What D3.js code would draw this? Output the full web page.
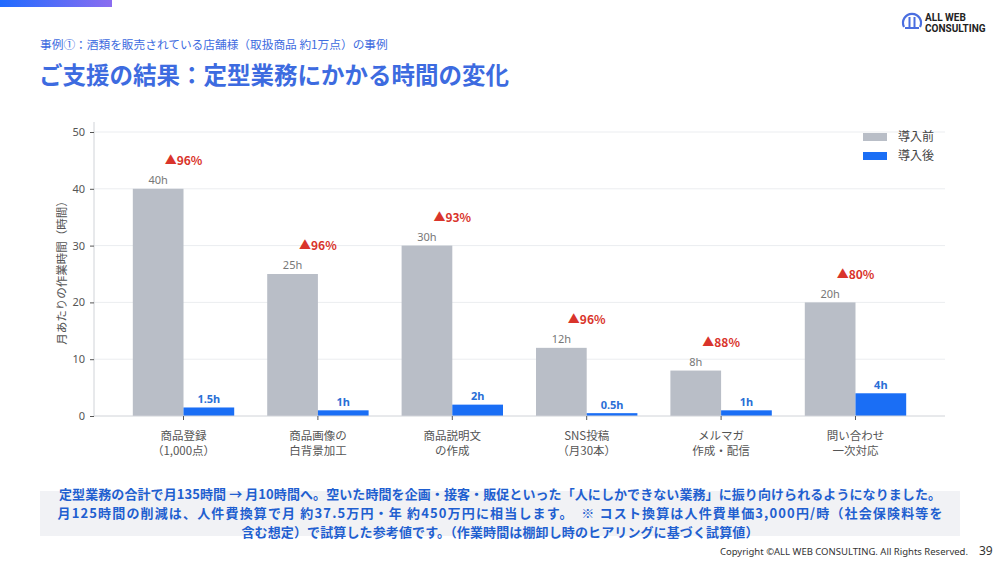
<!DOCTYPE html>
<html>
<head>
<meta charset="utf-8">
<script src="https://cdn.jsdelivr.net/npm/d3@7"></script>
<style>
  body { margin: 0; background: #fff; }
  svg { display: block; font-family: "Noto Sans CJK JP", "Noto Sans", sans-serif; }
</style>
</head>
<body>
<div id="slide"></div>
<script>
// chart data
var categories = [
  ["商品登録", "（1,000点）"],
  ["商品画像の", "白背景加工"],
  ["商品説明文", "の作成"],
  ["SNS投稿", "（月30本）"],
  ["メルマガ", "作成・配信"],
  ["問い合わせ", "一次対応"]
];
var before = [40, 25, 30, 12, 8, 20];
var after = [1.5, 1, 2, 0.5, 1, 4];
var reduction = ["▲96%", "▲96%", "▲93%", "▲96%", "▲88%", "▲80%"];
var yTicks = [0, 10, 20, 30, 40, 50];
var seriesNames = ["導入前", "導入後"];

var summaryLines = [
  "定型業務の合計で月135時間 → 月10時間へ。空いた時間を企画・接客・販促といった「人にしかできない業務」に振り向けられるようになりました。",
  "月125時間の削減は、人件費換算で月 約37.5万円・年 約450万円に相当します。　※ コスト換算は人件費単価3,000円/時（社会保険料等を",
  "含む想定）で試算した参考値です。（作業時間は棚卸し時のヒアリングに基づく試算値）"
];
var summaryWidths = [882, 885, 517];

var W = 1000, H = 563;
var grayC = "#b9bec7", blueC = "#1a6ef5";

var svg = d3.select("#slide").append("svg")
  .attr("width", W).attr("height", H);

// top gradient strip
var defs = svg.append("defs");
var grad = defs.append("linearGradient").attr("id", "topbar");
grad.append("stop").attr("offset", "0%").attr("stop-color", "#1f6bff");
grad.append("stop").attr("offset", "100%").attr("stop-color", "#8b6df0");
svg.append("rect").attr("x", 0).attr("y", 0).attr("width", 112).attr("height", 7)
  .attr("fill", "url(#topbar)");

// header text
svg.append("text").attr("x", 40).attr("y", 49)
  .attr("font-size", 11.7).attr("fill", "#3d6be0")
  .text("事例①：酒類を販売されている店舗様（取扱商品 約1万点）の事例");
svg.append("text").attr("x", 39).attr("y", 84)
  .attr("font-size", 23.5).attr("font-weight", "bold").attr("fill", "#3d6be0")
  .text("ご支援の結果：定型業務にかかる時間の変化");

// logo
var logo = svg.append("g").attr("transform", "translate(912,23)");
logo.append("path")
  .attr("d", "M-8,4 A9,9 0 1 1 8,4")
  .attr("fill", "none").attr("stroke", "#4a6ee0").attr("stroke-width", 2.2);
logo.append("path")
  .attr("d", "M-2.5,-6 V5 M2.5,-6 V5 M-7,5 H7")
  .attr("fill", "none").attr("stroke", "#4a6ee0").attr("stroke-width", 2);
logo.append("text").attr("x", 13).attr("y", -2)
  .attr("font-family", "Roboto, sans-serif").attr("font-weight", "bold")
  .attr("font-size", 10).attr("fill", "#222").text("ALL WEB");
logo.append("text").attr("x", 13).attr("y", 9)
  .attr("font-family", "Roboto, sans-serif").attr("font-weight", "bold")
  .attr("font-size", 10).attr("fill", "#222").text("CONSULTING");

// chart area
var plotLeft = 94, plotRight = 945, plotTop = 132, plotBottom = 416;
var x = d3.scalePoint().domain(d3.range(categories.length))
  .range([plotLeft, plotRight]).padding(0.666);
var y = d3.scaleLinear().domain([0, 50]).range([plotBottom, plotTop]);
var barW = 50.7;

var chart = svg.append("g");

// gridlines
chart.selectAll(".grid").data(yTicks.slice(1)).enter().append("line")
  .attr("class", "grid")
  .attr("x1", plotLeft).attr("x2", plotRight)
  .attr("y1", function(d) { return y(d); }).attr("y2", function(d) { return y(d); })
  .attr("stroke", "#ebedf0").attr("stroke-width", 1);

// bars
chart.selectAll(".before").data(before).enter().append("rect")
  .attr("class", "before")
  .attr("x", function(d, i) { return x(i) - barW; })
  .attr("y", function(d) { return y(d); })
  .attr("width", barW)
  .attr("height", function(d) { return y(0) - y(d); })
  .attr("fill", grayC);
chart.selectAll(".after").data(after).enter().append("rect")
  .attr("class", "after")
  .attr("x", function(d, i) { return x(i); })
  .attr("y", function(d) { return y(d); })
  .attr("width", barW)
  .attr("height", function(d) { return y(0) - y(d); })
  .attr("fill", blueC);

// axes
var yAxis = d3.axisLeft(y).tickValues(yTicks).tickSize(4).tickPadding(5);
var gy = chart.append("g").attr("transform", "translate(" + plotLeft + ",0)").call(yAxis);
gy.select(".domain").attr("stroke", "#d0d3d8").attr("d", "M0," + (plotTop - 10) + "V" + plotBottom);
gy.selectAll(".tick line").attr("stroke", "#555");
gy.selectAll(".tick text").attr("font-size", 11).attr("fill", "#555")
  .attr("font-family", "'Noto Sans', sans-serif");

chart.append("line").attr("x1", plotLeft).attr("x2", plotRight)
  .attr("y1", plotBottom).attr("y2", plotBottom).attr("stroke", "#d0d3d8");
chart.selectAll(".xtick").data(categories).enter().append("line")
  .attr("class", "xtick")
  .attr("x1", function(d, i) { return x(i); }).attr("x2", function(d, i) { return x(i); })
  .attr("y1", plotBottom).attr("y2", plotBottom + 4).attr("stroke", "#555");

var xl = chart.selectAll(".xlab").data(categories).enter().append("text")
  .attr("class", "xlab")
  .attr("text-anchor", "middle").attr("font-size", 11.5).attr("fill", "#555")
  .attr("x", function(d, i) { return x(i); })
  .attr("y", plotBottom + 24);
xl.append("tspan").attr("x", function(d, i) { return x(i); })
  .text(function(d) { return d[0]; });
xl.append("tspan").attr("x", function(d, i) { return x(i); }).attr("dy", 15)
  .text(function(d) { return d[1]; });

// y label
chart.append("text")
  .attr("transform", "translate(66,270) rotate(-90)")
  .attr("text-anchor", "middle").attr("font-size", 11.5).attr("fill", "#555")
  .text("月あたりの作業時間（時間）");

// value labels
chart.selectAll(".blab").data(before).enter().append("text")
  .attr("class", "blab")
  .attr("text-anchor", "middle").attr("font-size", 11).attr("fill", "#777")
  .attr("font-family", "'Noto Sans', sans-serif")
  .attr("x", function(d, i) { return x(i) - barW / 2; })
  .attr("y", function(d) { return y(d + 1.5) + 4; })
  .text(function(d) { return d + "h"; });
chart.selectAll(".alab").data(after).enter().append("text")
  .attr("class", "alab")
  .attr("text-anchor", "middle").attr("font-size", 11).attr("fill", "#2a6fd6")
  .attr("font-weight", "bold").attr("font-family", "'Noto Sans', sans-serif")
  .attr("x", function(d, i) { return x(i) + barW / 2; })
  .attr("y", function(d) { return y(d + 1.5) + 4; })
  .text(function(d) { return d + "h"; });
chart.selectAll(".rlab").data(reduction).enter().append("text")
  .attr("class", "rlab")
  .attr("text-anchor", "middle").attr("font-size", 12).attr("fill", "#d9342b")
  .attr("font-weight", "bold").attr("font-family", "'Noto Sans CJK JP', sans-serif")
  .attr("x", function(d, i) { return x(i); })
  .attr("y", function(d, i) { return y(before[i] + 5) + 4.5; })
  .text(function(d) { return d; });

// legend
var lg = chart.append("g").attr("transform", "translate(863,133)");
var legendColors = [grayC, blueC];
lg.selectAll("rect").data(seriesNames).enter().append("rect")
  .attr("x", 0).attr("y", function(d, i) { return i * 19; })
  .attr("width", 24).attr("height", 8)
  .attr("fill", function(d, i) { return legendColors[i]; });
lg.selectAll("text").data(seriesNames).enter().append("text")
  .attr("x", 35).attr("y", function(d, i) { return i * 19 + 8; })
  .attr("font-size", 12).attr("fill", "#444")
  .text(function(d) { return d; });

// summary box
svg.append("rect").attr("x", 40).attr("y", 491).attr("width", 920).attr("height", 45)
  .attr("fill", "#f1f2f5");
svg.selectAll(".sum").data(summaryLines).enter().append("text")
  .attr("class", "sum")
  .attr("x", 500).attr("y", function(d, i) { return 499 + i * 19; })
  .attr("text-anchor", "middle").attr("font-size", 13).attr("font-weight", "bold")
  .attr("fill", "#1f5fd0")
  .attr("textLength", function(d, i) { return summaryWidths[i]; })
  .attr("lengthAdjust", "spacing")
  .text(function(d) { return d; });

// footer
svg.append("text").attr("x", 968).attr("y", 555).attr("text-anchor", "end")
  .attr("font-size", 9.5).attr("fill", "#333")
  .attr("font-family", "'Noto Sans', sans-serif")
  .text("Copyright ©ALL WEB CONSULTING. All Rights Reserved.");
svg.append("text").attr("x", 979).attr("y", 555)
  .attr("font-size", 12).attr("fill", "#333")
  .attr("font-family", "'Noto Sans', sans-serif")
  .text("39");
</script>
</body>
</html>
